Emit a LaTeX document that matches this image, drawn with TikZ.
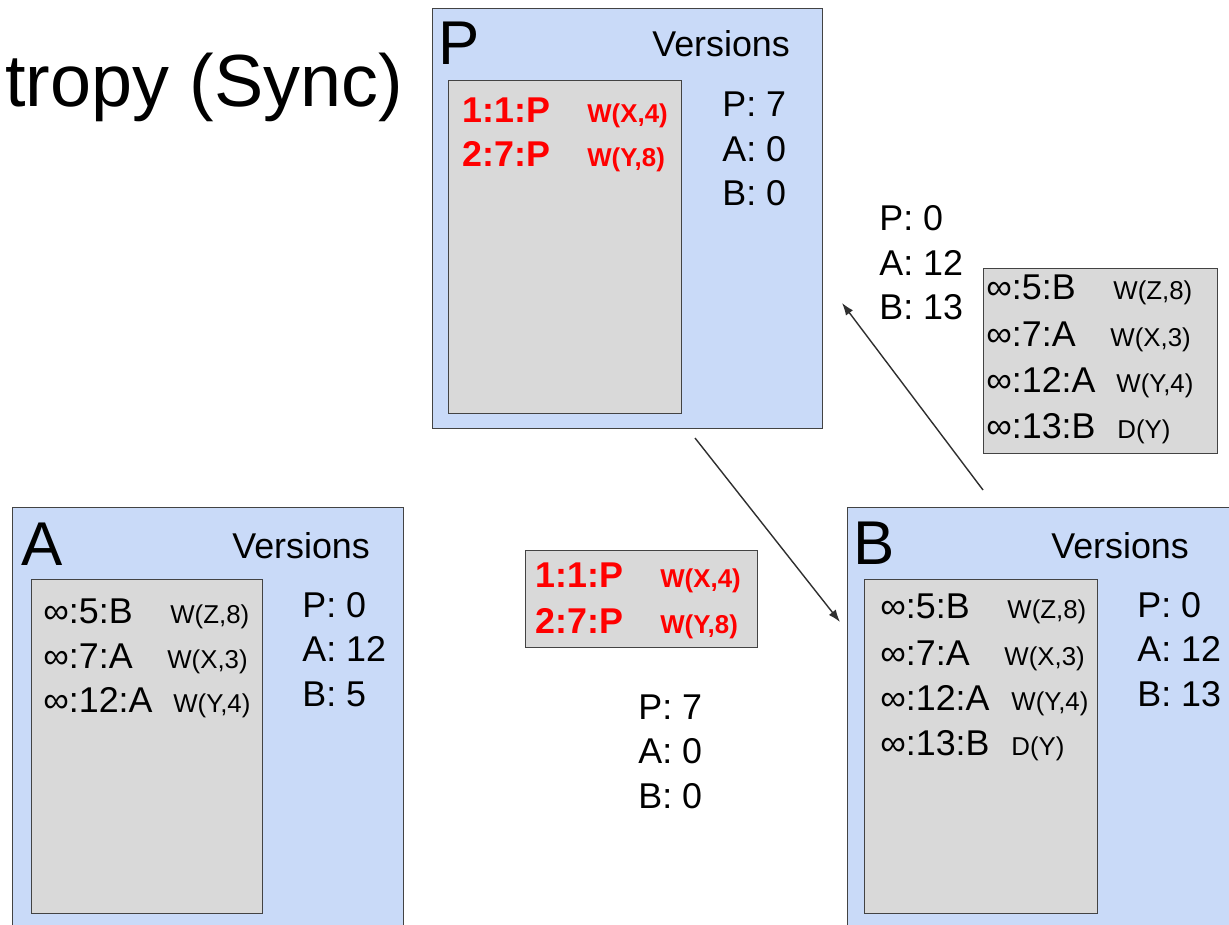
\documentclass[tikz,border=0pt]{standalone}
\usepackage{fontspec}
\setmainfont{Liberation Sans}
\usetikzlibrary{arrows.meta}
\definecolor{siteblue}{HTML}{C9DAF8}
\definecolor{loggray}{HTML}{D9D9D9}
\definecolor{edgegray}{HTML}{434343}
\definecolor{opred}{HTML}{FF0000}
\tikzset{
  site/.style={draw=edgegray, line width=0.8pt, fill=siteblue, anchor=north west, inner sep=0pt},
  logbox/.style={draw=edgegray, line width=0.8pt, fill=loggray, anchor=north west, inner sep=0pt},
  txt/.style={anchor=base west, inner sep=0pt, font=\fontsize{20.4}{24}\selectfont},
  plain/.style={txt},
  plainop/.style={txt, font=\fontsize{14.7}{18}\selectfont},
  hot/.style={txt, text=opred, font=\fontsize{20.4}{24}\selectfont\bfseries},
  hotop/.style={txt, text=opred, font=\fontsize{14.7}{18}\selectfont\bfseries},
  letter/.style={txt, font=\fontsize{35.2}{40}\selectfont},
  link/.style={-{Latex[length=7pt,width=5pt]}, line width=0.8pt, draw=edgegray!70!black}
}

\begin{document}
\begin{tikzpicture}[x=0.02cm,y=-0.02cm]
\newcommand{\verstab}[6]{%
  \node[txt] (#1-p) at (#2,#3) {P: #4};
  \node[txt] (#1-a) at (#2,#3+44.5) {A: #5};
  \node[txt] (#1-b) at (#2,#3+89) {B: #6};
}
\newcommand{\logrow}[7]{%
  \node[#2] (#1) at (#3,#4) {#5};
  \node[#2op] (#1-op) at (#6,#4) {#7};
}

\useasboundingbox (0,0) rectangle (1229,925);
\clip (0,0) rectangle (1229,925);

\node[anchor=base west, inner sep=0pt, font=\fontsize{42}{50}\selectfont] (title) at (5,107) {tropy (Sync)};

% sites
\node[site, minimum width=390*0.02cm, minimum height=420*0.02cm] (P) at (432,8) {};
\node[site, minimum width=391*0.02cm, minimum height=430*0.02cm] (A) at (12,507) {};
\node[site, minimum width=400*0.02cm, minimum height=430*0.02cm] (B) at (847,507) {};

\node[letter] (P-name) at (438,65) {P};
\node[letter] (A-name) at (21,565) {A};
\node[letter] (B-name) at (853,564) {B};
\node[txt] (P-vers) at (652,57) {Versions};
\node[txt] (A-vers) at (232,558) {Versions};
\node[txt] (B-vers) at (1051,558) {Versions};

% logs
\node[logbox, minimum width=233*0.02cm, minimum height=333*0.02cm] (Plog) at (448,80) {};
\node[logbox, minimum width=231*0.02cm, minimum height=334*0.02cm] (Alog) at (31,579) {};
\node[logbox, minimum width=233*0.02cm, minimum height=334*0.02cm] (Blog) at (864,579) {};
\node[logbox, minimum width=232*0.02cm, minimum height=97*0.02cm] (msg) at (525,550) {};
\node[logbox, minimum width=234*0.02cm, minimum height=185*0.02cm] (ack) at (983,268) {};

\logrow{P-1}{hot}{462}{123}{1:1:P}{587}{W(X,4)}
\logrow{P-2}{hot}{462}{167}{2:7:P}{587}{W(Y,8)}

\logrow{msg-1}{hot}{535}{587}{1:1:P}{660}{W(X,4)}
\logrow{msg-2}{hot}{535}{633}{2:7:P}{660}{W(Y,8)}

\logrow{A-1}{plain}{43}{623}{∞:5:B}{170}{W(Z,8)}
\logrow{A-2}{plain}{43}{668}{∞:7:A}{167}{W(X,3)}
\logrow{A-3}{plain}{43}{712}{∞:12:A}{173}{W(Y,4)}

\logrow{B-1}{plain}{880}{618}{∞:5:B}{1007}{W(Z,8)}
\logrow{B-2}{plain}{880}{665}{∞:7:A}{1004}{W(X,3)}
\logrow{B-3}{plain}{880}{710}{∞:12:A}{1011}{W(Y,4)}
\logrow{B-4}{plain}{880}{755}{∞:13:B}{1011}{D(Y)}

\logrow{ack-1}{plain}{986}{300}{∞:5:B}{1113}{W(Z,8)}
\logrow{ack-2}{plain}{986}{347}{∞:7:A}{1110}{W(X,3)}
\logrow{ack-3}{plain}{986}{393}{∞:12:A}{1116}{W(Y,4)}
\logrow{ack-4}{plain}{986}{438}{∞:13:B}{1117}{D(Y)}

% version vectors
\verstab{Pv}{722}{117}{7}{0}{0}
\verstab{Av}{302}{617}{0}{12}{5}
\verstab{Bv}{1137}{617}{0}{12}{13}
\verstab{msgv}{638}{719}{7}{0}{0}
\verstab{ackv}{879}{231}{0}{12}{13}

% sync
\coordinate (Psend) at (695,438);
\coordinate (Brecv) at (840,622);
\coordinate (Bsend) at (983,490);
\coordinate (Precv) at (842,303);
\draw[link] (Psend) -- (Brecv);
\draw[link] (Bsend) -- (Precv);
\end{tikzpicture}
\end{document}
